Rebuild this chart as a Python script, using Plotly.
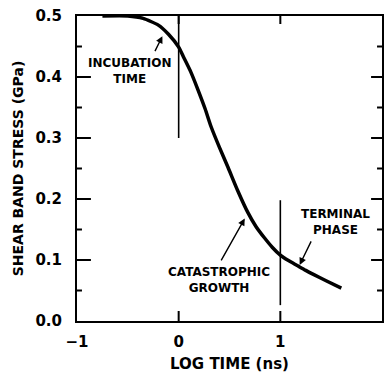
import plotly.graph_objects as go

# Data
log_time = [-0.75, -0.5, -0.35, -0.2, -0.1, 0.0, 0.05, 0.12, 0.19, 0.26, 0.32, 0.40, 0.485,
            0.58, 0.68, 0.76, 0.845, 0.92, 1.0, 1.08, 1.165, 1.25, 1.33, 1.45, 1.6]
stress = [0.5, 0.5, 0.496, 0.485, 0.47, 0.449, 0.432, 0.408, 0.379, 0.348, 0.318, 0.285, 0.252,
          0.214, 0.178, 0.155, 0.136, 0.121, 0.108, 0.099, 0.091, 0.083, 0.076, 0.066, 0.054]

x_range = [-1, 2]
y_range = [0.0, 0.5]
x_ticks = [-1, 0, 1, 2]
x_tick_labels = ["−1", "0", "1", "2"]
y_ticks = [0.0, 0.1, 0.2, 0.3, 0.4, 0.5]
y_tick_labels = ["0.0", "0.1", "0.2", "0.3", "0.4", "0.5"]
y_minor_ticks = [0.05, 0.15, 0.25, 0.35, 0.45]

boundary_x = [0, 1]
boundary_y0 = [0.30, 0.026]
boundary_y1 = [0.5, 0.198]

labels = ["INCUBATION<br>TIME", "CATASTROPHIC<br>GROWTH", "TERMINAL<br>PHASE"]
label_x = [-0.48, 0.40, 1.54]
label_y = [0.41, 0.068, 0.163]
arrow_tail_x = [-0.24, 0.41, 1.31]
arrow_tail_y = [0.44, 0.097, 0.133]
arrow_head_x = [-0.16, 0.65, 1.19]
arrow_head_y = [0.467, 0.168, 0.092]

BOLD = "DejaVu Sans"
W, H = 385, 379
M = dict(l=77, r=1, t=16, b=58)
# pixel -> data conversion for inward tick marks
px_x = (x_range[1] - x_range[0]) / (W - M["l"] - M["r"])
px_y = (y_range[1] - y_range[0]) / (H - M["t"] - M["b"])

fig = go.Figure()

# inward tick marks on all four sides
tx, ty = [], []
for v in y_ticks[1:-1]:
    tx += [x_range[0], x_range[0] + 14 * px_x, None, x_range[1], x_range[1] - 11 * px_x, None]
    ty += [v, v, None, v, v, None]
for v in y_minor_ticks:
    tx += [x_range[0], x_range[0] + 5 * px_x, None, x_range[1], x_range[1] - 5 * px_x, None]
    ty += [v, v, None, v, v, None]
for v in x_ticks[1:-1]:
    tx += [v, v, None, v, v, None]
    ty += [y_range[0], y_range[0] + 10 * px_y, None, y_range[1], y_range[1] - 8 * px_y, None]
fig.add_trace(go.Scatter(x=tx, y=ty, mode="lines", line=dict(color="black", width=2),
                         hoverinfo="skip", showlegend=False, connectgaps=False))

# phase boundary lines
bx, by = [], []
for xv, y0, y1 in zip(boundary_x, boundary_y0, boundary_y1):
    bx += [xv, xv, None]
    by += [y0, y1, None]
fig.add_trace(go.Scatter(x=bx, y=by, mode="lines", line=dict(color="black", width=1.6),
                         hoverinfo="skip", showlegend=False, connectgaps=False))

fig.add_trace(go.Scatter(x=log_time, y=stress, mode="lines",
                         line=dict(color="black", width=3.5, shape="spline", smoothing=0.6),
                         hoverinfo="skip", showlegend=False))

for t, lx, ly in zip(labels, label_x, label_y):
    fig.add_annotation(x=lx, y=ly, text=t, showarrow=False, xref="x", yref="y",
                       font=dict(family=BOLD, size=12, color="black", weight="bold"),
                       align="center")

for ax_, ay_, hx, hy in zip(arrow_tail_x, arrow_tail_y, arrow_head_x, arrow_head_y):
    fig.add_annotation(x=hx, y=hy, ax=ax_, ay=ay_, xref="x", yref="y", axref="x", ayref="y",
                       text="", showarrow=True, arrowhead=2, arrowsize=1.0, arrowwidth=1.4,
                       arrowcolor="black", standoff=0, startstandoff=0)

fig.update_layout(
    width=W, height=H,
    margin=M,
    plot_bgcolor="white", paper_bgcolor="white",
    showlegend=False,
    xaxis=dict(range=x_range, tickmode="array", tickvals=x_ticks, ticktext=x_tick_labels,
               showgrid=False, zeroline=False, showline=True, linecolor="black", linewidth=2,
               mirror=True, ticks="",
               tickfont=dict(family=BOLD, size=15, color="black", weight="bold"),
               ticklabelstandoff=6,
               title=dict(text="LOG TIME (ns)", standoff=8,
                          font=dict(family=BOLD, size=15, color="black", weight="bold"))),
    yaxis=dict(range=y_range, tickmode="array", tickvals=y_ticks, ticktext=y_tick_labels,
               showgrid=False, zeroline=False, showline=True, linecolor="black", linewidth=2,
               mirror=True, ticks="",
               tickfont=dict(family=BOLD, size=15, color="black", weight="bold"),
               ticklabelstandoff=10,
               title=dict(text="SHEAR BAND STRESS (GPa)", standoff=9,
                          font=dict(family=BOLD, size=14, color="black", weight="bold"))),
)

fig.write_html("out.html")
